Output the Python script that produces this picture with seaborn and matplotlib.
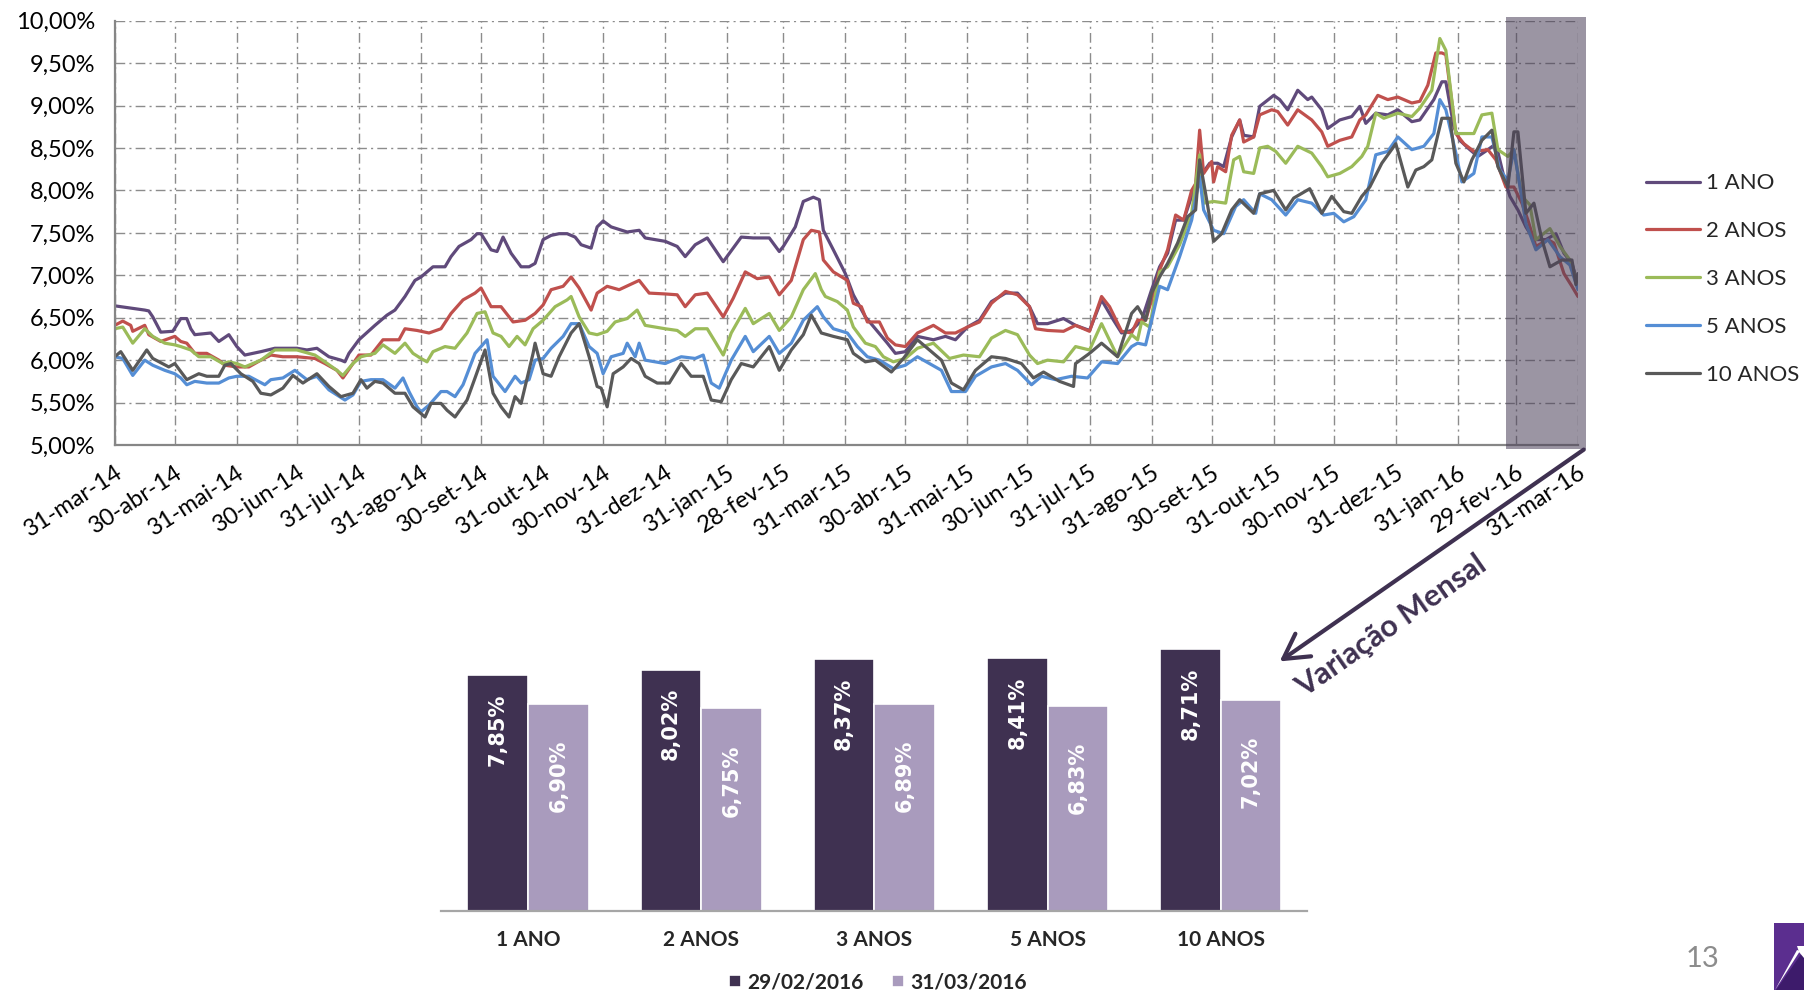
import pandas as pd
import matplotlib
matplotlib.use("Agg")
import matplotlib.pyplot as plt
import matplotlib.ticker as mticker
from matplotlib.colors import to_hex
from matplotlib.patches import Rectangle, Polygon, FancyArrowPatch
import seaborn as sns

# ============================================
# DADOS - curva de taxas (dias desde 31-mar-14)
# ============================================
inicio = pd.Timestamp("2014-03-31")
series = ["1 ANO", "2 ANOS", "3 ANOS", "5 ANOS", "10 ANOS"]
cores = ["#604a7b", "#c0504d", "#9bbb59", "#558ed5", "#595959"]

dias_1ano = [0, 15, 17, 19, 23, 29, 33, 36, 38, 40, 48, 52, 57, 61, 65, 73, 80, 91, 96, 101, 107, 113, 115, 117, 122, 130, 136, 140, 145, 150,
             153, 159, 165, 168, 172, 178, 181, 183, 188, 191, 194, 198, 203, 207, 210, 214, 218, 222, 226, 230, 233, 238, 241, 244, 248, 256, 262, 265, 275, 281,
             285, 290, 296, 304, 309, 313, 319, 327, 332, 334, 340, 344, 349, 352, 354, 359, 365, 369, 375, 380, 386, 390, 395, 401, 409, 415, 420, 426, 432, 438,
             445, 451, 457, 461, 466, 474, 480, 487, 493, 499, 503, 508, 513, 518, 522, 526, 530, 534, 538, 541, 547, 551, 554, 558, 562, 564, 569, 572, 579, 582,
             586, 591, 596, 598, 603, 606, 612, 618, 622, 625, 630, 636, 641, 648, 652, 659, 663, 665, 669, 672, 677, 681, 686, 690, 694, 697, 701, 705, 709, 715,
             720, 724, 728, 731]
taxa_1ano = [6.64, 6.59, 6.58, 6.51, 6.33, 6.34, 6.49, 6.49, 6.37, 6.30, 6.32, 6.22, 6.30, 6.16, 6.06, 6.10, 6.14, 6.14, 6.12, 6.14, 6.04, 6.00, 5.98, 6.08, 6.24, 6.41, 6.53, 6.59, 6.75, 6.94,
             6.98, 7.10, 7.10, 7.22, 7.34, 7.42, 7.49, 7.49, 7.30, 7.28, 7.45, 7.26, 7.10, 7.10, 7.14, 7.42, 7.47, 7.49, 7.49, 7.45, 7.36, 7.32, 7.57, 7.64, 7.57, 7.51, 7.53, 7.44, 7.40, 7.34,
             7.22, 7.36, 7.44, 7.16, 7.32, 7.45, 7.44, 7.44, 7.28, 7.34, 7.57, 7.87, 7.92, 7.89, 7.53, 7.30, 7.02, 6.77, 6.51, 6.37, 6.20, 6.08, 6.10, 6.28, 6.24, 6.28, 6.24, 6.39, 6.47, 6.69,
             6.79, 6.79, 6.63, 6.43, 6.43, 6.49, 6.41, 6.35, 6.71, 6.47, 6.32, 6.35, 6.47, 6.83, 7.10, 7.26, 7.65, 7.65, 7.93, 8.12, 8.32, 8.32, 8.28, 8.63, 8.83, 8.65, 8.63, 8.99, 9.12, 9.07,
             8.95, 9.18, 9.07, 9.10, 8.95, 8.73, 8.83, 8.87, 8.99, 8.79, 8.91, 8.89, 8.95, 8.81, 8.83, 9.07, 9.28, 9.28, 8.75, 8.59, 8.48, 8.40, 8.48, 8.55, 8.16, 7.93, 7.77, 7.57, 7.42, 7.42,
             7.49, 7.26, 7.14, 6.90]

dias_2anos = [0, 4, 8, 9, 15, 17, 23, 30, 33, 36, 40, 46, 52, 55, 61, 67, 73, 78, 84, 91, 100, 105, 111, 114, 119, 122, 128, 134, 142, 145,
              151, 153, 157, 163, 168, 174, 180, 183, 188, 193, 199, 205, 210, 214, 218, 224, 228, 232, 238, 241, 246, 252, 262, 267, 275, 281, 285, 290, 296, 304,
              309, 315, 321, 327, 332, 338, 344, 348, 352, 354, 359, 366, 369, 373, 376, 382, 386, 390, 395, 401, 409, 415, 420, 426, 432, 438, 445, 451, 457, 460,
              466, 474, 480, 487, 493, 497, 503, 508, 511, 515, 518, 522, 526, 530, 534, 538, 540, 542, 544, 548, 549, 551, 555, 558, 562, 564, 569, 572, 578, 581,
              586, 591, 598, 603, 606, 612, 618, 622, 625, 631, 636, 641, 648, 652, 656, 660, 663, 665, 670, 674, 679, 686, 690, 695, 699, 703, 706, 710, 716, 719,
              724, 728, 731]
taxa_2anos = [6.41, 6.46, 6.41, 6.34, 6.41, 6.30, 6.22, 6.28, 6.22, 6.20, 6.08, 6.08, 6.00, 5.94, 5.92, 5.92, 6.00, 6.06, 6.04, 6.04, 6.02, 5.96, 5.88, 5.79, 5.96, 6.06, 6.06, 6.24, 6.24, 6.37,
              6.35, 6.34, 6.32, 6.37, 6.55, 6.71, 6.79, 6.85, 6.63, 6.63, 6.45, 6.47, 6.55, 6.65, 6.83, 6.87, 6.98, 6.85, 6.59, 6.79, 6.87, 6.83, 6.94, 6.79, 6.78, 6.77, 6.63, 6.77, 6.79, 6.51,
              6.73, 7.04, 6.96, 6.98, 6.77, 6.94, 7.42, 7.53, 7.51, 7.18, 7.04, 6.94, 6.67, 6.63, 6.45, 6.45, 6.26, 6.18, 6.16, 6.32, 6.41, 6.32, 6.32, 6.39, 6.45, 6.67, 6.81, 6.77, 6.63, 6.37,
              6.35, 6.34, 6.41, 6.34, 6.75, 6.63, 6.34, 6.32, 6.47, 6.47, 6.71, 7.06, 7.30, 7.71, 7.65, 8.00, 8.08, 8.71, 8.20, 8.34, 8.10, 8.28, 8.22, 8.65, 8.83, 8.57, 8.63, 8.89, 8.95, 8.93,
              8.77, 8.95, 8.83, 8.69, 8.52, 8.59, 8.63, 8.83, 8.89, 9.12, 9.07, 9.10, 9.03, 9.05, 9.24, 9.62, 9.62, 9.60, 8.67, 8.55, 8.46, 8.48, 8.36, 8.04, 8.04, 7.85, 7.65, 7.34, 7.42, 7.38,
              7.02, 6.87, 6.75]

dias_3anos = [0, 4, 9, 15, 19, 25, 30, 33, 38, 42, 48, 54, 57, 61, 65, 73, 80, 84, 91, 100, 105, 111, 114, 119, 123, 130, 134, 140, 145, 149,
              153, 156, 159, 165, 170, 176, 181, 185, 189, 193, 197, 201, 205, 209, 214, 220, 226, 228, 232, 237, 241, 246, 250, 256, 261, 265, 275, 281, 285, 290,
              296, 304, 308, 315, 319, 327, 332, 338, 344, 350, 353, 355, 361, 366, 369, 375, 380, 384, 389, 395, 401, 409, 417, 424, 432, 438, 445, 451, 457, 461,
              466, 474, 480, 487, 493, 501, 508, 511, 513, 517, 522, 526, 532, 538, 542, 544, 549, 555, 559, 562, 564, 569, 572, 576, 580, 585, 591, 598, 603, 606,
              612, 618, 623, 626, 630, 634, 641, 648, 652, 658, 662, 665, 670, 674, 679, 683, 688, 691, 696, 699, 703, 707, 710, 717, 722, 727, 731]
taxa_3anos = [6.37, 6.39, 6.20, 6.37, 6.28, 6.20, 6.18, 6.16, 6.12, 6.04, 6.04, 5.96, 5.98, 5.96, 5.92, 6.00, 6.12, 6.12, 6.12, 6.06, 5.98, 5.88, 5.82, 5.96, 6.04, 6.08, 6.18, 6.08, 6.20, 6.08,
              6.02, 5.98, 6.10, 6.16, 6.14, 6.32, 6.55, 6.57, 6.32, 6.28, 6.16, 6.28, 6.18, 6.37, 6.47, 6.63, 6.71, 6.75, 6.51, 6.32, 6.30, 6.34, 6.45, 6.49, 6.59, 6.41, 6.37, 6.35, 6.28, 6.37,
              6.37, 6.06, 6.32, 6.61, 6.43, 6.55, 6.35, 6.51, 6.83, 7.02, 6.83, 6.75, 6.69, 6.59, 6.39, 6.20, 6.16, 6.04, 5.98, 6.02, 6.14, 6.20, 6.02, 6.06, 6.04, 6.26, 6.35, 6.30, 6.06, 5.96,
              6.00, 5.98, 6.16, 6.12, 6.43, 6.04, 6.30, 6.24, 6.45, 6.39, 7.04, 7.10, 7.36, 7.73, 8.42, 7.85, 7.87, 7.85, 8.36, 8.40, 8.22, 8.20, 8.50, 8.52, 8.46, 8.32, 8.52, 8.44, 8.28, 8.16,
              8.20, 8.28, 8.40, 8.52, 8.91, 8.85, 8.91, 8.87, 8.97, 9.18, 9.79, 9.65, 8.67, 8.67, 8.67, 8.89, 8.91, 8.48, 8.40, 8.48, 7.93, 7.83, 7.42, 7.55, 7.34, 7.18, 6.89]

dias_5anos = [0, 4, 9, 15, 19, 25, 30, 33, 36, 40, 46, 52, 57, 61, 67, 75, 78, 84, 90, 96, 101, 107, 111, 115, 119, 123, 128, 134, 140, 144,
              147, 151, 153, 157, 163, 166, 170, 174, 180, 186, 189, 195, 200, 203, 207, 210, 214, 218, 224, 228, 232, 237, 241, 244, 248, 254, 256, 260, 262, 265,
              275, 283, 290, 294, 298, 302, 308, 315, 319, 327, 332, 338, 344, 351, 354, 359, 366, 371, 376, 382, 389, 395, 401, 407, 413, 418, 425, 430, 438, 445,
              451, 458, 463, 470, 478, 486, 493, 501, 508, 511, 515, 518, 522, 526, 532, 538, 542, 544, 549, 554, 560, 564, 570, 572, 578, 585, 591, 598, 604, 609,
              614, 619, 625, 630, 636, 641, 648, 654, 659, 662, 665, 670, 673, 679, 683, 688, 692, 696, 699, 705, 710, 716, 722, 727, 731]
taxa_5anos = [6.04, 6.02, 5.82, 6.00, 5.94, 5.88, 5.84, 5.79, 5.71, 5.75, 5.73, 5.73, 5.79, 5.81, 5.81, 5.71, 5.77, 5.79, 5.88, 5.77, 5.81, 5.65, 5.59, 5.53, 5.59, 5.75, 5.77, 5.77, 5.67, 5.79,
              5.63, 5.45, 5.39, 5.47, 5.63, 5.63, 5.57, 5.71, 6.08, 6.24, 5.81, 5.63, 5.81, 5.73, 5.77, 6.00, 6.02, 6.14, 6.28, 6.43, 6.43, 6.16, 6.08, 5.84, 6.04, 6.08, 6.20, 6.04, 6.20, 6.00,
              5.96, 6.04, 6.02, 6.06, 5.73, 5.67, 6.00, 6.28, 6.10, 6.28, 6.08, 6.20, 6.47, 6.63, 6.51, 6.37, 6.32, 6.16, 6.04, 6.00, 5.90, 5.94, 6.04, 5.96, 5.88, 5.63, 5.63, 5.81, 5.92, 5.96,
              5.88, 5.71, 5.81, 5.77, 5.81, 5.79, 5.98, 5.96, 6.16, 6.20, 6.18, 6.47, 6.87, 6.83, 7.22, 7.65, 8.16, 7.77, 7.53, 7.49, 7.81, 7.89, 7.73, 7.96, 7.89, 7.71, 7.89, 7.85, 7.71, 7.73,
              7.63, 7.69, 7.89, 8.42, 8.46, 8.63, 8.48, 8.52, 8.67, 9.07, 8.95, 8.44, 8.10, 8.20, 8.63, 8.63, 8.24, 8.12, 8.48, 7.61, 7.30, 7.42, 7.22, 7.12, 6.83]

dias_10anos = [0, 3, 9, 16, 19, 27, 30, 36, 42, 46, 52, 55, 58, 63, 69, 73, 78, 84, 89, 94, 101, 107, 113, 119, 123, 126, 130, 134, 140, 145,
               149, 155, 158, 163, 166, 170, 176, 180, 185, 189, 193, 197, 200, 203, 209, 210, 214, 218, 222, 228, 232, 237, 241, 243, 246, 249, 254, 258, 262, 265,
               271, 277, 283, 288, 294, 298, 303, 308, 313, 319, 327, 332, 338, 344, 348, 353, 359, 366, 369, 375, 380, 388, 394, 401, 407, 413, 418, 424, 430, 438,
               445, 453, 459, 464, 472, 479, 480, 487, 493, 501, 508, 511, 515, 518, 522, 526, 531, 536, 540, 542, 545, 549, 553, 558, 562, 569, 572, 579, 585, 589,
               597, 603, 608, 614, 618, 623, 627, 633, 640, 646, 650, 654, 658, 663, 667, 670, 674, 678, 683, 688, 691, 696, 699, 701, 705, 709, 713, 717, 723, 728,
               730, 731]
taxa_10anos = [6.04, 6.10, 5.88, 6.12, 6.02, 5.92, 5.96, 5.77, 5.84, 5.81, 5.81, 5.94, 5.96, 5.84, 5.75, 5.61, 5.59, 5.67, 5.82, 5.73, 5.84, 5.69, 5.57, 5.61, 5.77, 5.67, 5.75, 5.73, 5.61, 5.61,
               5.45, 5.33, 5.49, 5.49, 5.41, 5.33, 5.53, 5.79, 6.12, 5.61, 5.45, 5.33, 5.57, 5.49, 6.08, 6.20, 5.84, 5.81, 6.04, 6.32, 6.43, 6.04, 5.69, 5.67, 5.45, 5.84, 5.92, 6.02, 5.96, 5.81,
               5.73, 5.73, 5.96, 5.81, 5.81, 5.53, 5.51, 5.77, 5.96, 5.92, 6.16, 5.88, 6.12, 6.30, 6.53, 6.32, 6.28, 6.24, 6.08, 5.98, 6.00, 5.86, 6.02, 6.24, 6.12, 6.00, 5.73, 5.65, 5.88, 6.04,
               6.02, 5.96, 5.79, 5.86, 5.75, 5.69, 5.96, 6.08, 6.20, 6.04, 6.55, 6.63, 6.47, 6.79, 6.98, 7.14, 7.38, 7.69, 7.77, 8.36, 7.96, 7.40, 7.49, 7.77, 7.89, 7.73, 7.96, 8.00, 7.77, 7.91,
               8.02, 7.73, 7.93, 7.75, 7.73, 7.93, 8.04, 8.32, 8.55, 8.04, 8.24, 8.28, 8.36, 8.85, 8.85, 8.32, 8.10, 8.36, 8.59, 8.71, 8.28, 8.04, 8.69, 8.69, 7.73, 7.85, 7.42, 7.10, 7.18, 7.18,
               6.89, 7.02]

meses = ["jan", "fev", "mar", "abr", "mai", "jun", "jul", "ago", "set", "out", "nov", "dez"]
destaque_ini = "2016-02-24"
destaque_fim = "2016-04-04"

# DADOS - variacao mensal (barras)
datas_barras = ["29/02/2016", "31/03/2016"]
cores_barras = ["#3f3151", "#a99bbd"]
barras_fev = [7.85, 8.02, 8.37, 8.41, 8.71]
barras_mar = [6.90, 6.75, 6.89, 6.83, 7.02]

# ============================================
# TABELAS
# ============================================
todos_dias = [dias_1ano, dias_2anos, dias_3anos, dias_5anos, dias_10anos]
todas_taxas = [taxa_1ano, taxa_2anos, taxa_3anos, taxa_5anos, taxa_10anos]
partes = []
for nome, dias, taxas in zip(series, todos_dias, todas_taxas):
    assert len(dias) == len(taxas), nome
    partes.append(pd.DataFrame({"data": inicio + pd.to_timedelta(dias, unit="D"),
                                "taxa": taxas, "prazo": nome}))
df = pd.concat(partes, ignore_index=True)

dfb = pd.DataFrame({"prazo": series * 2,
                    "data": [datas_barras[0]] * 5 + [datas_barras[1]] * 5,
                    "taxa": barras_fev + barras_mar})

# ============================================
# FIGURA
# ============================================
sns.set_style("white")
plt.rcParams["font.family"] = ["Lato", "DejaVu Sans"]

fig = plt.figure(figsize=(18.04, 9.94), dpi=100)
cinza = "#868686"

# ---- grafico de linhas
ax = fig.add_axes([0.0636, 0.5523, 0.8111, 0.4269])
sns.lineplot(data=df, x="data", y="taxa", hue="prazo", hue_order=series,
             palette=cores, estimator=None, linewidth=2.3, ax=ax)

ticks = pd.date_range("2014-03-31", "2016-03-31", freq="ME")
rotulos = [f"{d.day}-{meses[d.month - 1]}-{d.strftime('%y')}" for d in ticks]
ax.set_xlim(ticks[0], ticks[-1])
ax.set_xticks(ticks.to_pydatetime())
ax.set_xticklabels(rotulos, rotation=33, ha="right", va="top", rotation_mode="anchor")

ax.set_ylim(5, 10)
ax.yaxis.set_major_locator(mticker.MultipleLocator(0.5))
ax.yaxis.set_major_formatter(mticker.FuncFormatter(lambda v, p: f"{v:.2f}%".replace(".", ",")))

ax.grid(True, color="#8c8c8c", linestyle=(0, (7, 3, 1.5, 3)), linewidth=1.0)
ax.set_axisbelow(True)
sns.despine(ax=ax)
for lado in ["left", "bottom"]:
    ax.spines[lado].set_color(cinza)
    ax.spines[lado].set_linewidth(1.6)
ax.tick_params(axis="both", direction="out", length=6, width=1.3, color=cinza, labelsize=17, labelcolor="black")
ax.tick_params(axis="y", pad=8)
ax.tick_params(axis="x", pad=6)
ax.set_xlabel("")
ax.set_ylabel("")

ax.axvspan(pd.Timestamp(destaque_ini), pd.Timestamp(destaque_fim), ymin=-0.0094, ymax=1.0087,
           color="#4a3f58", alpha=0.55, lw=0, clip_on=False, zorder=5)

handles, labels = ax.get_legend_handles_labels()
ax.get_legend().remove()
fig.legend(handles, labels, loc="center left", bbox_to_anchor=(1646 / 1804, 1 - 279 / 994),
           frameon=False, fontsize=16, handlelength=2.45, handletextpad=0.25,
           labelspacing=1.25, borderpad=0, borderaxespad=0)

# ---- seta e texto
seta = FancyArrowPatch((0.8792, 0.5493), (0.7081, 0.3330), transform=fig.transFigure,
                       arrowstyle="->,head_length=0.8,head_width=0.45", mutation_scale=22,
                       lw=3, color="#3f3151")
fig.add_artist(seta)
fig.text(0.7711, 0.3702, "Variação Mensal", rotation=35, ha="center", va="center",
         fontsize=22, fontweight="bold", color="#3f3151")

# ---- grafico de barras
axb = fig.add_axes([0.2447, 0.0835, 0.4800, 0.2872])
sns.barplot(data=dfb, x="prazo", y="taxa", hue="data", palette=cores_barras, width=0.7,
            saturation=1, edgecolor="white", linewidth=1.2, ax=axb)
axb.set_ylim(0, 9.5)
axb.set_xlim(-0.5, 4.5)
axb.set_yticks([])
sns.despine(ax=axb, left=True)
axb.spines["bottom"].set_color("#a6a6a6")
axb.spines["bottom"].set_linewidth(1.6)
axb.tick_params(axis="x", length=0, pad=14, labelsize=15)
for t in axb.get_xticklabels():
    t.set_fontweight("bold")
axb.set_xlabel("")
axb.set_ylabel("")

# rotulos dentro das barras (cor da barra define o deslocamento)
desloc = {cores_barras[0]: 0.6, cores_barras[1]: 1.2}
for barra in axb.patches:
    v = barra.get_height()
    cor = to_hex(barra.get_facecolor())
    if v <= 0 or cor not in desloc:
        continue
    axb.text(barra.get_x() + barra.get_width() / 2, v - desloc[cor], f"{v:.2f}%".replace(".", ","),
             rotation=90, ha="center", va="top", color="white", fontsize=15,
             fontweight="bold", family="DejaVu Sans")

hb, lb = axb.get_legend_handles_labels()
axb.get_legend().remove()
fig.legend(hb, lb, loc="center", bbox_to_anchor=(0.4867, 0.0116), ncol=2, frameon=False,
           prop={"weight": "bold", "size": 15}, handlelength=0.55, handleheight=0.55,
           handletextpad=0.3, columnspacing=1.4, borderpad=0, borderaxespad=0)

# ---- numero da pagina e logo
fig.text(1702 / 1804, 1 - 959 / 994, "13", color="#8c8c8c", fontsize=21, ha="center", va="center")
fig.add_artist(Rectangle((1774 / 1804, 1 - 990 / 994), 30 / 1804, 67 / 994,
                         transform=fig.transFigure, color="#5b2e8f", lw=0))
fig.add_artist(Polygon([(1776 / 1804, 1 - 990 / 994), (1804 / 1804, 1 - 950 / 994), (1804 / 1804, 1 - 990 / 994)],
                       closed=True, transform=fig.transFigure, color="#3d1b6b", lw=0))
fig.add_artist(Polygon([(1775 / 1804, 1 - 990 / 994), (1797 / 1804, 1 - 950 / 994), (1800 / 1804, 1 - 951 / 994)],
                       closed=True, transform=fig.transFigure, color="white", lw=0))
fig.add_artist(Polygon([(1797 / 1804, 1 - 946 / 994), (1804 / 1804, 1 - 946 / 994), (1804 / 1804, 1 - 958 / 994), (1799 / 1804, 1 - 952 / 994)],
                       closed=True, transform=fig.transFigure, color="white", lw=0))

fig.savefig("out.png", dpi=100)
